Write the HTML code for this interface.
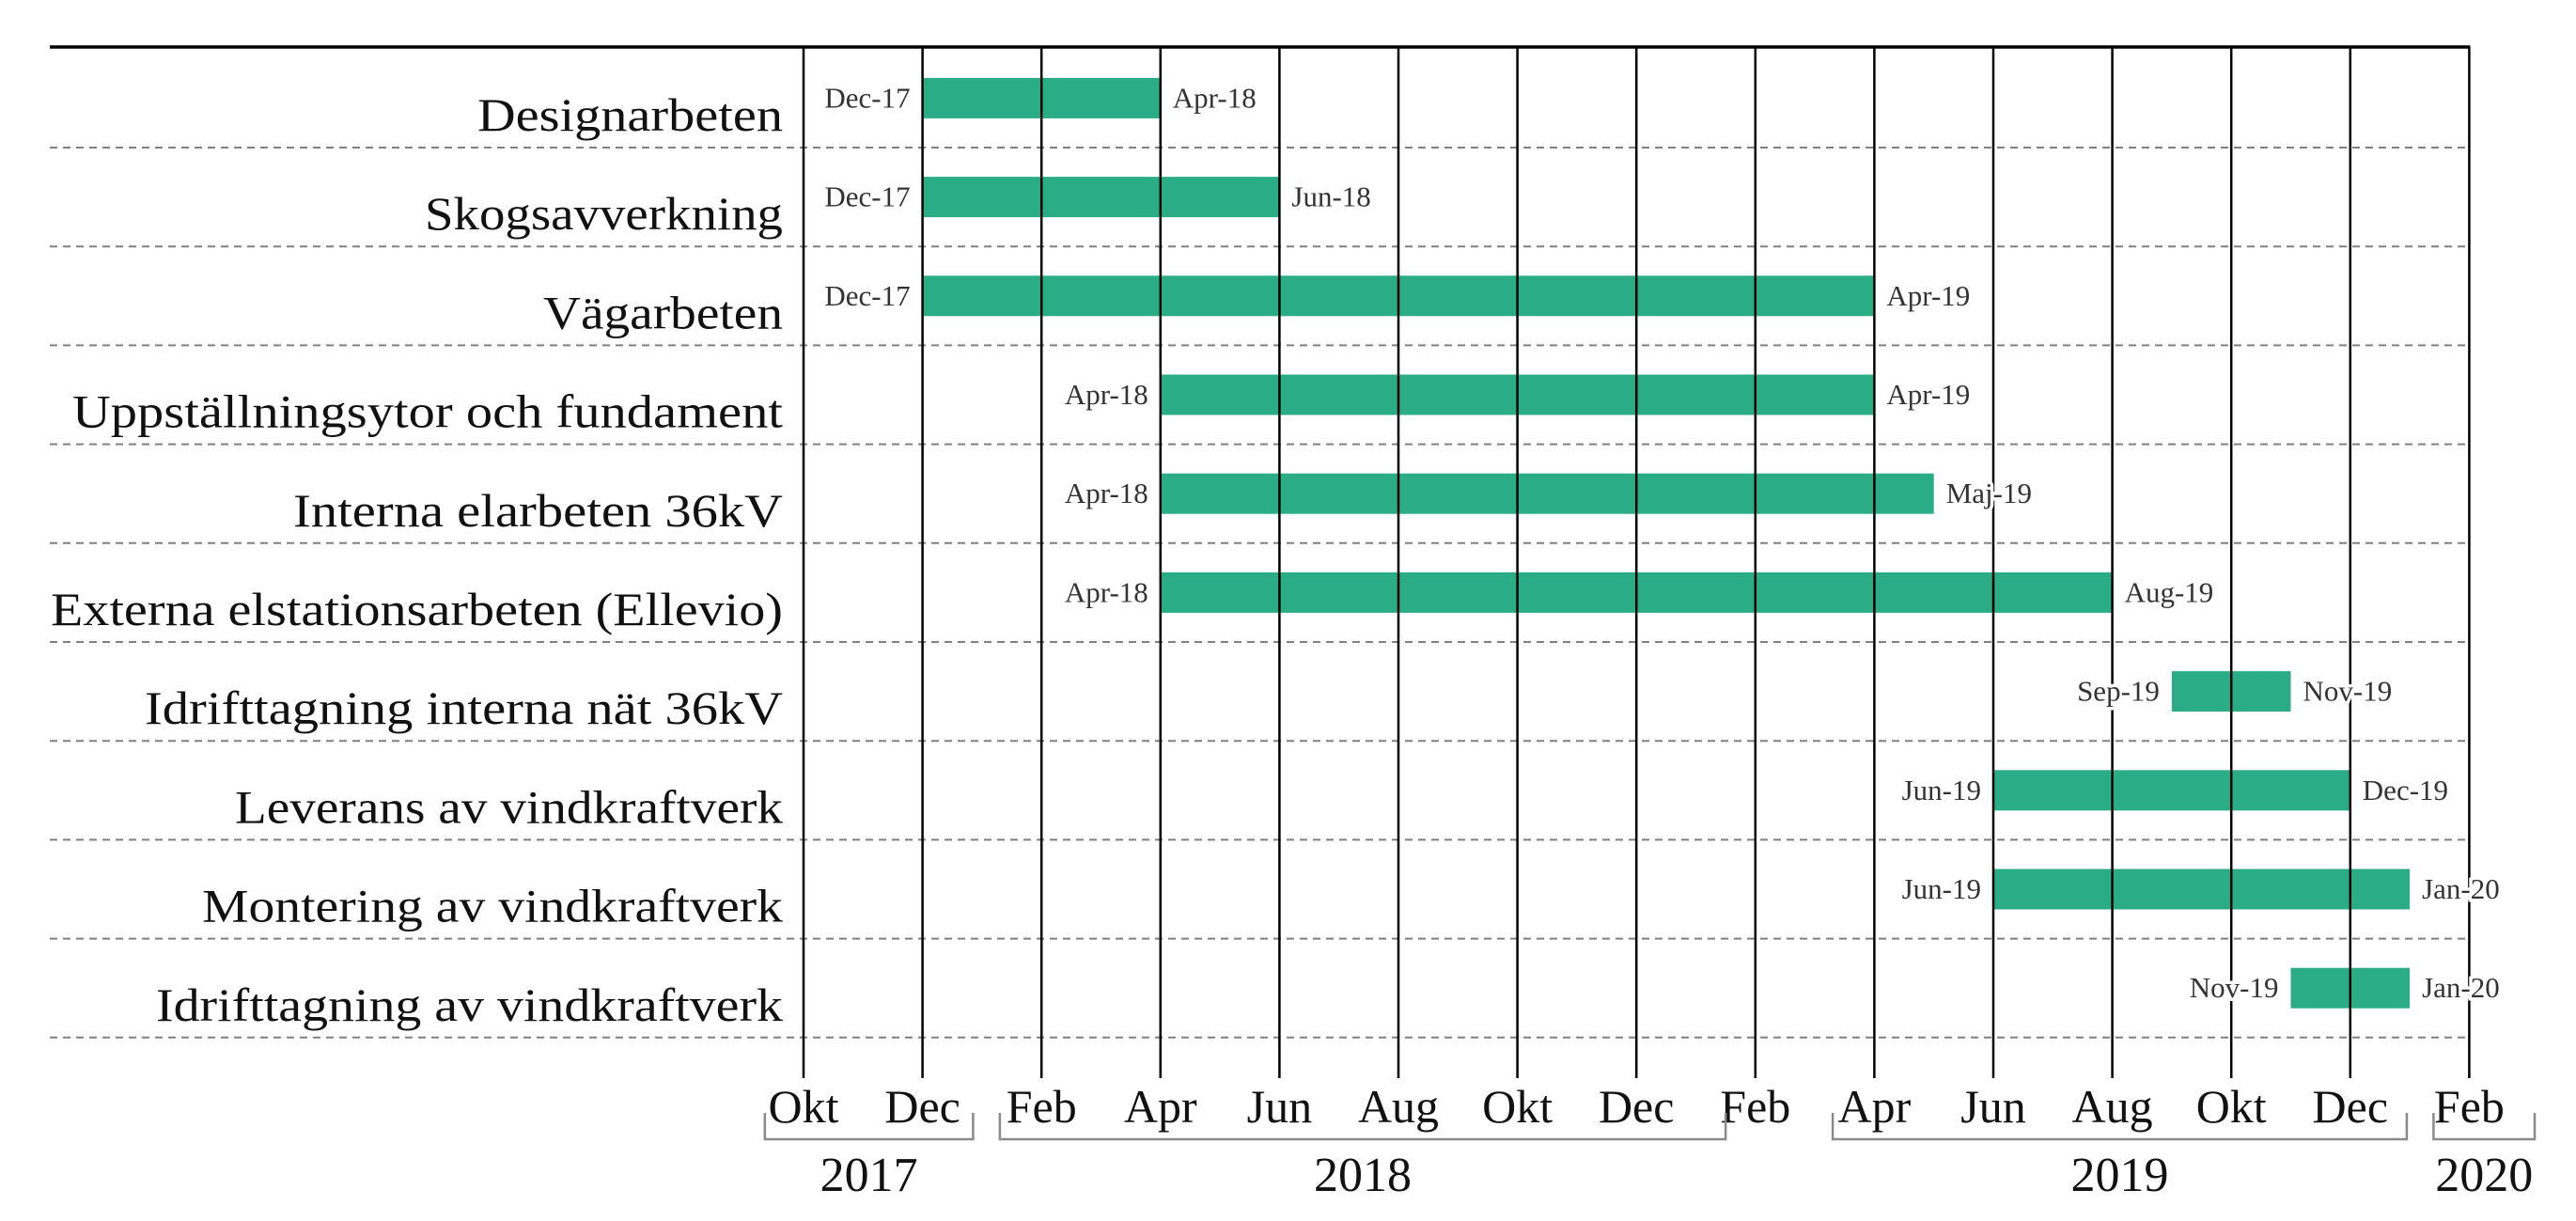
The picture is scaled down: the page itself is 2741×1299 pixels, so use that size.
<!DOCTYPE html>
<html><head><meta charset="utf-8"><style>
html,body{margin:0;padding:0;background:#fff;}
svg{display:block;font-family:"Liberation Serif",serif;}
</style></head><body>
<svg id="chart" width="2741" height="1299" viewBox="0 0 2741 1299" xmlns="http://www.w3.org/2000/svg"></svg>
<script>
const tasks = ["Designarbeten","Skogsavverkning","Vägarbeten","Uppställningsytor och fundament","Interna elarbeten 36kV","Externa elstationsarbeten (Ellevio)","Idrifttagning interna nät 36kV","Leverans av vindkraftverk","Montering av vindkraftverk","Idrifttagning av vindkraftverk"];
// month index: 0 = Okt 2017
const startMonths = [2,2,2,6,6,6,23,20,20,25];
const endMonths = [6,8,18,18,19,22,25,26,27,27];
const startLabels = ["Dec-17","Dec-17","Dec-17","Apr-18","Apr-18","Apr-18","Sep-19","Jun-19","Jun-19","Nov-19"];
const endLabels = ["Apr-18","Jun-18","Apr-19","Apr-19","Maj-19","Aug-19","Nov-19","Dec-19","Jan-20","Jan-20"];
const tickLabels = ["Okt","Dec","Feb","Apr","Jun","Aug","Okt","Dec","Feb","Apr","Jun","Aug","Okt","Dec","Feb"];
const years = ["2017","2018","2019","2020"];
const yearStart = [-0.65,3.3,17.3,27.4];
const yearEnd = [2.85,15.5,26.95,29.1];

const chartSvg = document.getElementById('chart');
const SVGNS = "http://www.w3.org/2000/svg";
const X0 = 855, MW = 63.3;
const xm = m => X0 + m*MW;
const DIV0 = 157, RH = 105.2;
const rowCenter = i => DIV0 + i*RH - RH/2;
const labelLeft = [508,452,578,77,312,54,154,250,215,166];
function mk(tag, attrs, parent){const e=document.createElementNS(SVGNS,tag);for(const k in attrs)e.setAttribute(k,attrs[k]);(parent||chartSvg).appendChild(e);return e;}

const gDash = mk('g',{});


tasks.forEach((t,i)=>{
  const l = mk('line',{x1:53,x2:xm(28),y1:DIV0+i*RH,y2:DIV0+i*RH,stroke:'#808080','stroke-width':2,'stroke-dasharray':'8 6'},gDash);
  
  
});

const gBars = mk('g',{});


tasks.forEach((t,i)=>{
  const cy = rowCenter(i);
  const r = mk('rect',{x:xm(startMonths[i]),y:cy-21.5,width:xm(endMonths[i])-xm(startMonths[i]),height:43,fill:'#2aad87'},gBars);
  
  
});

const gGrid = mk('g',{});


tickLabels.forEach((lab,k)=>{
  const m = k*2;
  const l = mk('line',{x1:xm(m),x2:xm(m),y1:50,y2:1147,stroke:'#000','stroke-width':2.5},gGrid);
  
  
});
const topRule = mk('line',{x1:53,x2:xm(28)+1,y1:50,y2:50,stroke:'#000','stroke-width':3.5});



tasks.forEach((t,i)=>{
  const cy = rowCenter(i);
  const s = mk('text',{x:xm(startMonths[i])-13,y:cy+10,'text-anchor':'end','font-size':31,fill:'#333',stroke:'#fff','stroke-width':7,'paint-order':'stroke'});
  s.textContent = startLabels[i];
  
  
  const e = mk('text',{x:xm(endMonths[i])+13,y:cy+10,'font-size':31,fill:'#333',stroke:'#fff','stroke-width':7,'paint-order':'stroke'});
  e.textContent = endLabels[i];
  
  
  const tl = mk('text',{x:labelLeft[i],y:DIV0+i*RH-18,'font-size':50,fill:'#111',textLength:833-labelLeft[i],lengthAdjust:'spacingAndGlyphs'});
  tl.textContent = t;
  
  
});

tickLabels.forEach((lab,k)=>{
  const t = mk('text',{x:xm(k*2),y:1194,'text-anchor':'middle','font-size':50,fill:'#111'});
  t.textContent = lab;
  
  
});

years.forEach((yr,k)=>{
  const a = xm(yearStart[k]), b = xm(yearEnd[k]);
  const p = mk('path',{d:`M${a} 1184 V1212 H${b} V1184`,fill:'none',stroke:'#8a8a8a','stroke-width':2.5});
  
  
  const t = mk('text',{x:(a+b)/2,y:1267,'text-anchor':'middle','font-size':52,fill:'#111'});
  t.textContent = yr;
  
  
});
</script>
</body></html>
